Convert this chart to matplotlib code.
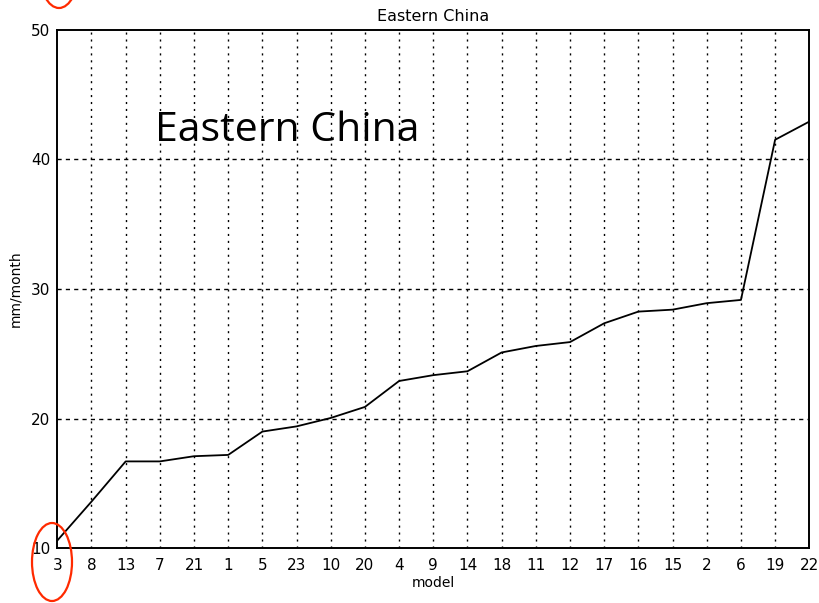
import matplotlib
matplotlib.use("Agg")
import matplotlib.pyplot as plt
from matplotlib.patches import Ellipse

models = ["3", "8", "13", "7", "21", "1", "5", "23", "10", "20", "4", "9",
          "14", "18", "11", "12", "17", "16", "15", "2", "6", "19", "22"]
precip = [10.6, 13.6, 16.7, 16.7, 17.1, 17.2, 19.0, 19.4, 20.05, 20.9, 22.9, 23.35,
          23.65, 25.1, 25.6, 25.9, 27.35, 28.25, 28.4, 28.9, 29.15, 41.5, 42.9]
yticks = [10, 20, 30, 40, 50]

W, H = 819, 603
fig = plt.figure(figsize=(W / 100, H / 100), dpi=100)
ax = fig.add_axes([57.3 / W, 1 - 548.3 / H, (809.3 - 57.3) / W, (548.3 - 29.5) / H])

x = list(range(len(models)))
ax.plot(x, precip, color="black", lw=1.3, zorder=3)

ax.set_xlim(0, len(models) - 1)
ax.set_ylim(10, 50)
ax.set_xticks(x)
ax.set_xticklabels(models, fontsize=11, fontweight="medium")
ax.set_yticks(yticks)
ax.set_yticklabels([str(v) for v in yticks], fontsize=11, fontweight="medium")
ax.tick_params(axis="x", length=0, pad=7)
ax.tick_params(axis="y", length=0, pad=5)

for xi in x[1:-1]:
    ax.axvline(xi, color="black", lw=1.0, ls=(0, (1.5, 3.5)), zorder=1)
for yv in yticks[1:-1]:
    ax.axhline(yv, color="black", lw=1.0, ls=(0, (3, 3)), zorder=1)

for s in ax.spines.values():
    s.set_linewidth(1.4)
ax.spines["left"].set_linestyle((0, (3, 1)))
ax.spines["top"].set_linestyle((0, (3, 1)))

ax.set_xlabel("model", fontsize=10, labelpad=2)
ax.set_ylabel("mm/month", fontsize=10, labelpad=6)
ax.set_title("Eastern China", fontsize=11.5, pad=6)

ax.text(155 / W, 1 - 131 / H, "Eastern China", transform=fig.transFigure,
        fontsize=29.5, family="Open Sans", va="center", ha="left")

# Red highlight rings
for cx, cy in [(52, 562), (59, -31)]:
    fig.add_artist(Ellipse((cx / W, 1 - cy / H), 40 / W, 78 / H,
                           transform=fig.transFigure, fill=False,
                           edgecolor="#ff2a00", lw=1.6, clip_on=False))

fig.savefig("out.png", dpi=100)
